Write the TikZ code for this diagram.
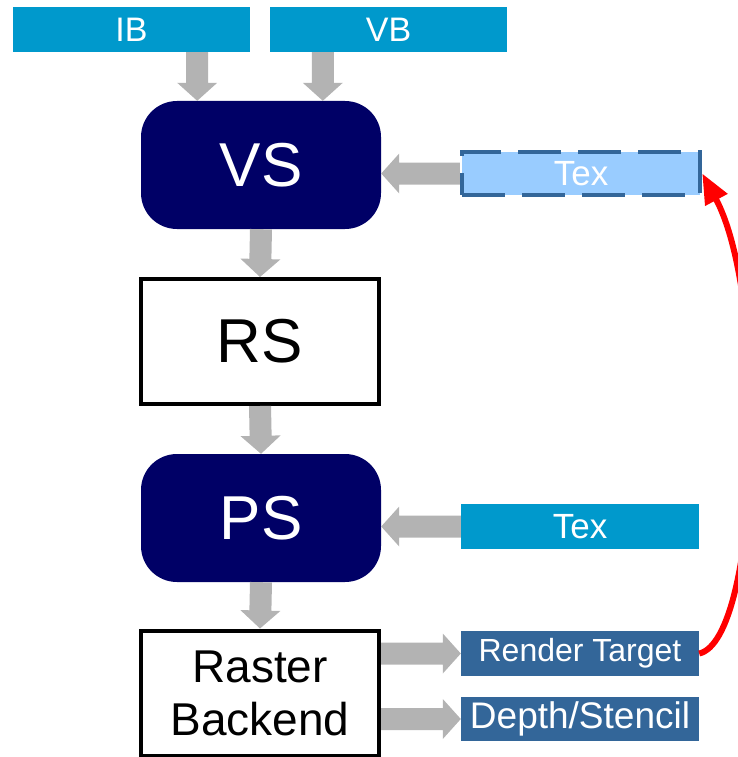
\documentclass[tikz,border=0pt]{standalone}
\usepackage{fontspec}
\setmainfont{Liberation Sans}
\usetikzlibrary{calc,arrows.meta}
\definecolor{cyanbox}{HTML}{0099CC}
\definecolor{navy}{HTML}{000066}
\definecolor{steel}{HTML}{336699}
\definecolor{paleblue}{HTML}{99CCFF}
\definecolor{arrowgray}{HTML}{B3B3B3}

% filled block arrow from #1 to #2 (shaft 22pt, head 40pt wide, 18pt long)
\newcommand\blockarrow[2]{%
  \fill[arrowgray] let \p1=(#1), \p2=(#2),
    \n1={atan2(\y2-\y1,\x2-\x1)}, \n2={veclen(\x2-\x1,\y2-\y1)} in
    [rotate around={\n1:(\p1)}]
    (\x1,\y1-11pt) -- (\x1+\n2-18pt,\y1-11pt) -- (\x1+\n2-18pt,\y1-20pt)
    -- (\x1+\n2,\y1) -- (\x1+\n2-18pt,\y1+20pt) -- (\x1+\n2-18pt,\y1+11pt)
    -- (\x1,\y1+11pt) -- cycle;}

\tikzset{
  inbox/.style={fill=cyanbox, text=white, inner sep=0pt,
    minimum width=237pt, minimum height=45pt, font=\fontsize{34}{34}\selectfont},
  shader/.style={fill=navy, text=white, rounded corners=36pt, inner sep=0pt,
    minimum width=240pt, minimum height=128pt, font=\fontsize{62}{62}\selectfont},
  fixedbox/.style={draw=black, fill=white, line width=4pt, inner sep=0pt,
    minimum width=238pt, minimum height=125pt},
  texbox/.style={fill=cyanbox, text=white, inner sep=0pt,
    minimum width=238pt, minimum height=45pt, font=\fontsize{35}{35}\selectfont},
  outbox/.style={fill=steel, text=white, inner sep=0pt,
    minimum width=238pt, minimum height=45pt},
  feedback/.style={draw=red, line width=6pt,
    -{Triangle[length=30pt,width=24pt]}}
}

\begin{document}
\begin{tikzpicture}[x=1pt, y=-1pt]
\useasboundingbox (0,0) rectangle (738,757);

% inputs
\node[inbox] (ib) at (131.5,29.5) {IB};
\node[inbox] (vb) at (388.5,29.5) {VB};

% pipeline stages
\node[shader] (vs) at (261,165) {VS};
\node[fixedbox, font=\fontsize{62}{62}\selectfont] (rs) at (260,341.5) {RS};
\node[shader] (ps) at (261,518) {PS};
\node[fixedbox, align=center, font=\fontsize{46}{53}\selectfont] (rb) at (260,693) {Raster\\Backend};

% textures and targets
\node[texbox, fill=paleblue, draw=steel, line width=4.5pt,
  dash pattern=on 43pt off 17pt, minimum height=43pt] (tex1) at (581,173.5) {Tex};
\node[texbox] (tex2) at (580,526.5) {Tex};
\node[outbox, font=\fontsize{32}{32}\selectfont] (rt) at (580,653.5) {Render Target};
\node[outbox, font=\fontsize{37}{37}\selectfont, minimum height=44pt] (ds) at (580,719) {Depth/Stencil};

% data flow
\coordinate (ibout) at ($(ib.south east)+(-53,0)$);
\coordinate (vbout) at ($(vb.south west)+(53,0)$);
\blockarrow{ibout}{ibout |- vs.north}
\blockarrow{vbout}{vbout |- vs.north}
\blockarrow{vs.south}{rs.north}
\blockarrow{rs.south}{ps.north}
\blockarrow{ps.south}{rb.north}
\blockarrow{tex1.west}{tex1.west -| vs.east}
\blockarrow{tex2.west}{tex2.west -| ps.east}
\blockarrow{rt.west -| rb.east}{rt.west}
\blockarrow{ds.west -| rb.east}{ds.west}

% render target fed back as texture
\draw[feedback] (rt.east) .. controls (760,640) and (770,300) .. (tex1.east);
\end{tikzpicture}
\end{document}
